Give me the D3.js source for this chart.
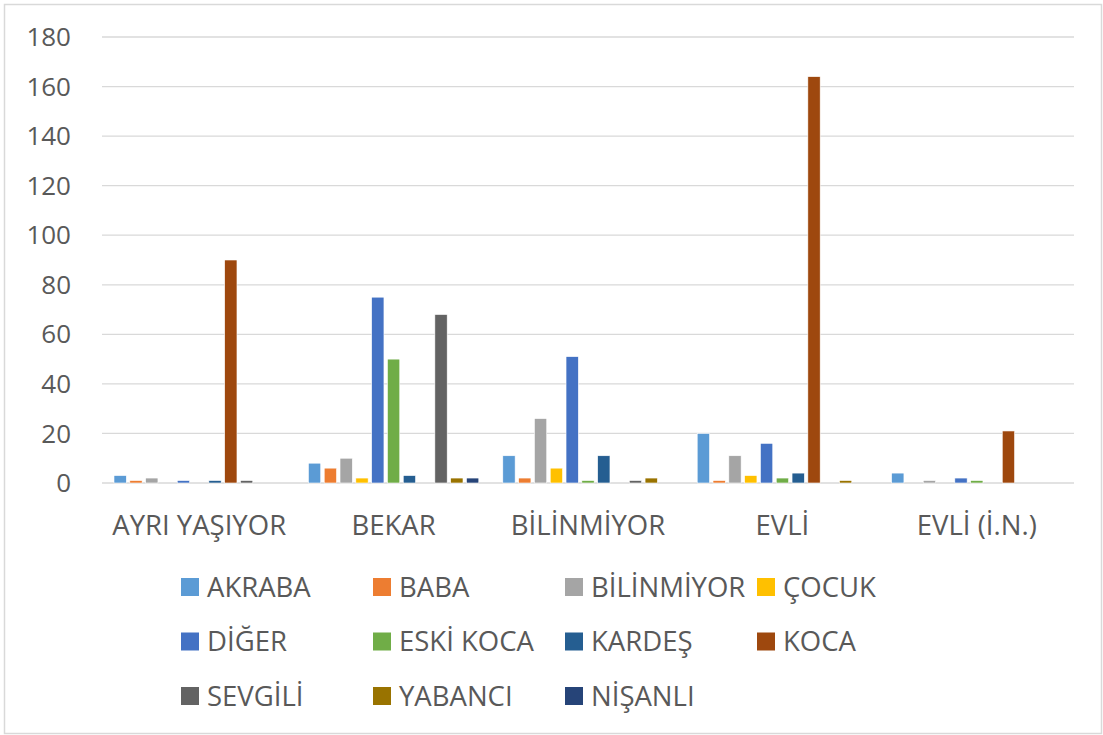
<!DOCTYPE html>
<html>
<head>
<meta charset="utf-8">
<script src="https://cdn.jsdelivr.net/npm/d3@7"></script>
<style>
  body { margin: 0; background: #fff; }
  svg text { font-family: "Open Sans", sans-serif; fill: #595959; }
</style>
</head>
<body>
<div id="chart"></div>
<script>
const categories = ["AYRI YAŞIYOR", "BEKAR", "BİLİNMİYOR", "EVLİ", "EVLİ (İ.N.)"];
const seriesNames = ["AKRABA", "BABA", "BİLİNMİYOR", "ÇOCUK", "DİĞER", "ESKİ KOCA",
    "KARDEŞ", "KOCA", "SEVGİLİ", "YABANCI", "NİŞANLI"];
const seriesColors = ["#5b9bd5", "#ed7d31", "#a5a5a5", "#ffc000", "#4472c4", "#70ad47",
    "#255e91", "#9e480e", "#636363", "#997300", "#264478"];

// values per series, in category order
const akraba    = [3, 8, 11, 20, 4];
const baba      = [1, 6, 2, 1, 0];
const bilinmiyor = [2, 10, 26, 11, 1];
const cocuk     = [0, 2, 6, 3, 0];
const diger     = [1, 75, 51, 16, 2];
const eskiKoca  = [0, 50, 1, 2, 1];
const kardes    = [1, 3, 11, 4, 0];
const koca      = [90, 0, 0, 164, 21];
const sevgili   = [1, 68, 1, 0, 0];
const yabanci   = [0, 2, 2, 1, 0];
const nisanli   = [0, 2, 0, 0, 0];

const seriesValues = [akraba, baba, bilinmiyor, cocuk, diger, eskiKoca,
    kardes, koca, sevgili, yabanci, nisanli];
const yTicks = [0, 20, 40, 60, 80, 100, 120, 140, 160, 180];

const width = 1103, height = 735;
const plot = {left: 102, right: 1074, top: 37, bottom: 483};

const svg = d3.select("#chart").append("svg")
    .attr("width", width)
    .attr("height", height);

// chart border
svg.append("rect")
    .attr("x", 4.5).attr("y", 4.5)
    .attr("width", width - 6).attr("height", height - 6)
    .attr("fill", "none")
    .attr("stroke", "#d9d9d9")
    .attr("stroke-width", 1.5);

const x0 = d3.scaleBand()
    .domain(categories)
    .range([plot.left, plot.right]);

const x1 = d3.scaleBand()
    .domain(seriesNames)
    .range([12, x0.bandwidth() - 12])
    .paddingInner(0.22);

const y = d3.scaleLinear()
    .domain([0, 180])
    .range([plot.bottom, plot.top]);

// gridlines
svg.append("g")
    .selectAll("line")
    .data(yTicks)
    .join("line")
    .attr("x1", plot.left).attr("x2", plot.right)
    .attr("y1", d => y(d)).attr("y2", d => y(d))
    .attr("stroke", "#d9d9d9")
    .attr("stroke-width", 1.3);

// y axis labels
svg.append("g")
    .selectAll("text")
    .data(yTicks)
    .join("text")
    .attr("x", 71)
    .attr("y", d => y(d))
    .attr("dy", "0.35em")
    .attr("text-anchor", "end")
    .style("font-size", "26px")
    .text(d => d);

// bars
const color = d3.scaleOrdinal().domain(seriesNames).range(seriesColors);

const groups = svg.append("g")
    .selectAll("g")
    .data(categories)
    .join("g")
    .attr("transform", d => "translate(" + x0(d) + ",0)");

groups.selectAll("rect")
    .data((c, ci) => seriesNames.map((s, si) => ({series: s, value: seriesValues[si][ci]})))
    .join("rect")
    .attr("x", d => x1(d.series))
    .attr("width", x1.bandwidth())
    .attr("y", d => y(d.value))
    .attr("height", d => y(0) - y(d.value))
    .attr("fill", d => color(d.series))
    .attr("stroke", "#fff")
    .attr("stroke-width", 0.6);

groups.selectAll("rect").filter(d => d.value === 0).remove();

// x axis labels
svg.append("g")
    .selectAll("text")
    .data(categories)
    .join("text")
    .attr("x", d => x0(d) + x0.bandwidth() / 2)
    .attr("y", 535)
    .attr("text-anchor", "middle")
    .style("font-size", "27.5px")
    .text(d => d);

// legend: 4 columns x 3 rows
const legend = svg.append("g")
    .selectAll("g")
    .data(seriesNames)
    .join("g")
    .attr("transform", (d, i) => "translate(" + (181 + (i % 4) * 192) + "," + (578 + Math.floor(i / 4) * 54.5) + ")");

legend.append("rect")
    .attr("width", 18).attr("height", 18)
    .attr("fill", d => color(d));

legend.append("text")
    .attr("x", 26)
    .attr("y", 9)
    .attr("dy", "0.36em")
    .style("font-size", "27.5px")
    .text(d => d);
</script>
</body>
</html>
